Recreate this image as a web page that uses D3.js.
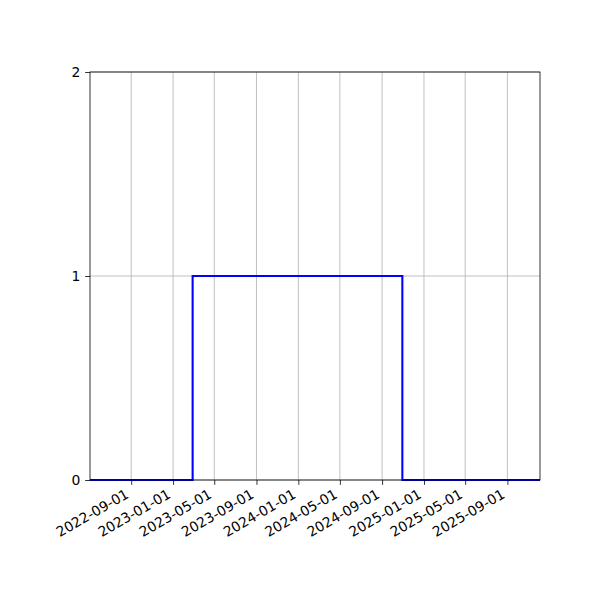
<!DOCTYPE html>
<html><head><meta charset="utf-8">
<script src="https://cdn.jsdelivr.net/npm/d3@7"></script>
<style>body{margin:0;background:#fff}</style>
</head><body>
<svg id="c" width="600" height="600"></svg>
<script>
const stepDates = ["2022-05-04","2023-02-27","2024-10-30","2025-12-05"];
const stepValues = [0, 1, 0, 0];
const xTicks = ["2022-09-01","2023-01-01","2023-05-01","2023-09-01","2024-01-01","2024-05-01","2024-09-01","2025-01-01","2025-05-01","2025-09-01"];
const yTicks = [0, 1, 2];
const xDomain = ["2022-05-04","2025-12-05"];

const parse = d3.utcParse("%Y-%m-%d");
const fmt = d3.utcFormat("%Y-%m-%d");
const svg = d3.select("#c");
const L=90,R=540,T=72,B=480;
const x = d3.scaleUtc().domain(xDomain.map(parse)).range([L,R]);
const y = d3.scaleLinear().domain([0,2]).range([B,T]);
const font = "DejaVu Sans, sans-serif";
const fs = "13.9px";

// grid
const g = svg.append("g");
g.selectAll(".vx").data(xTicks.map(parse)).join("line")
  .attr("x1",d=>x(d)).attr("x2",d=>x(d)).attr("y1",T).attr("y2",B)
  .attr("stroke","#b0b0b0").attr("stroke-width",0.8);
g.selectAll(".hy").data(yTicks).join("line")
  .attr("x1",L).attr("x2",R).attr("y1",d=>y(d)).attr("y2",d=>y(d))
  .attr("stroke","#b0b0b0").attr("stroke-width",0.8);

// line
const data = stepDates.map((d,i)=>({d:parse(d),v:stepValues[i]}));
svg.append("path").datum(data)
  .attr("d", d3.line().x(p=>x(p.d)).y(p=>y(p.v)).curve(d3.curveStepAfter))
  .attr("fill","none").attr("stroke","#0000ff").attr("stroke-width",2.08);

// axes
const xa = svg.append("g").attr("transform",`translate(0,${B})`)
  .call(d3.axisBottom(x).tickValues(xTicks.map(parse)).tickFormat(fmt).tickSize(4.86).tickPadding(4.86));
xa.select(".domain").remove();
xa.selectAll("text").attr("font-family",font).attr("font-size",fs).attr("fill","#000")
  .attr("text-anchor","end").attr("dy",null)
  .attr("x",-2).attr("y",17)
  .attr("transform","rotate(-30,-2,17)");
xa.selectAll("line").attr("stroke","#000").attr("stroke-width",0.8);

const ya = svg.append("g").attr("transform",`translate(${L},0)`)
  .call(d3.axisLeft(y).tickValues(yTicks).tickFormat(d3.format("d")).tickSize(4.86).tickPadding(4.86));
ya.select(".domain").remove();
ya.selectAll("text").attr("font-family",font).attr("font-size",fs).attr("fill","#000");
ya.selectAll("line").attr("stroke","#000").attr("stroke-width",0.8);

svg.append("rect").attr("x",L).attr("y",T).attr("width",R-L).attr("height",B-T)
  .attr("fill","none").attr("stroke","#000").attr("stroke-width",0.8);
</script>
</body></html>
